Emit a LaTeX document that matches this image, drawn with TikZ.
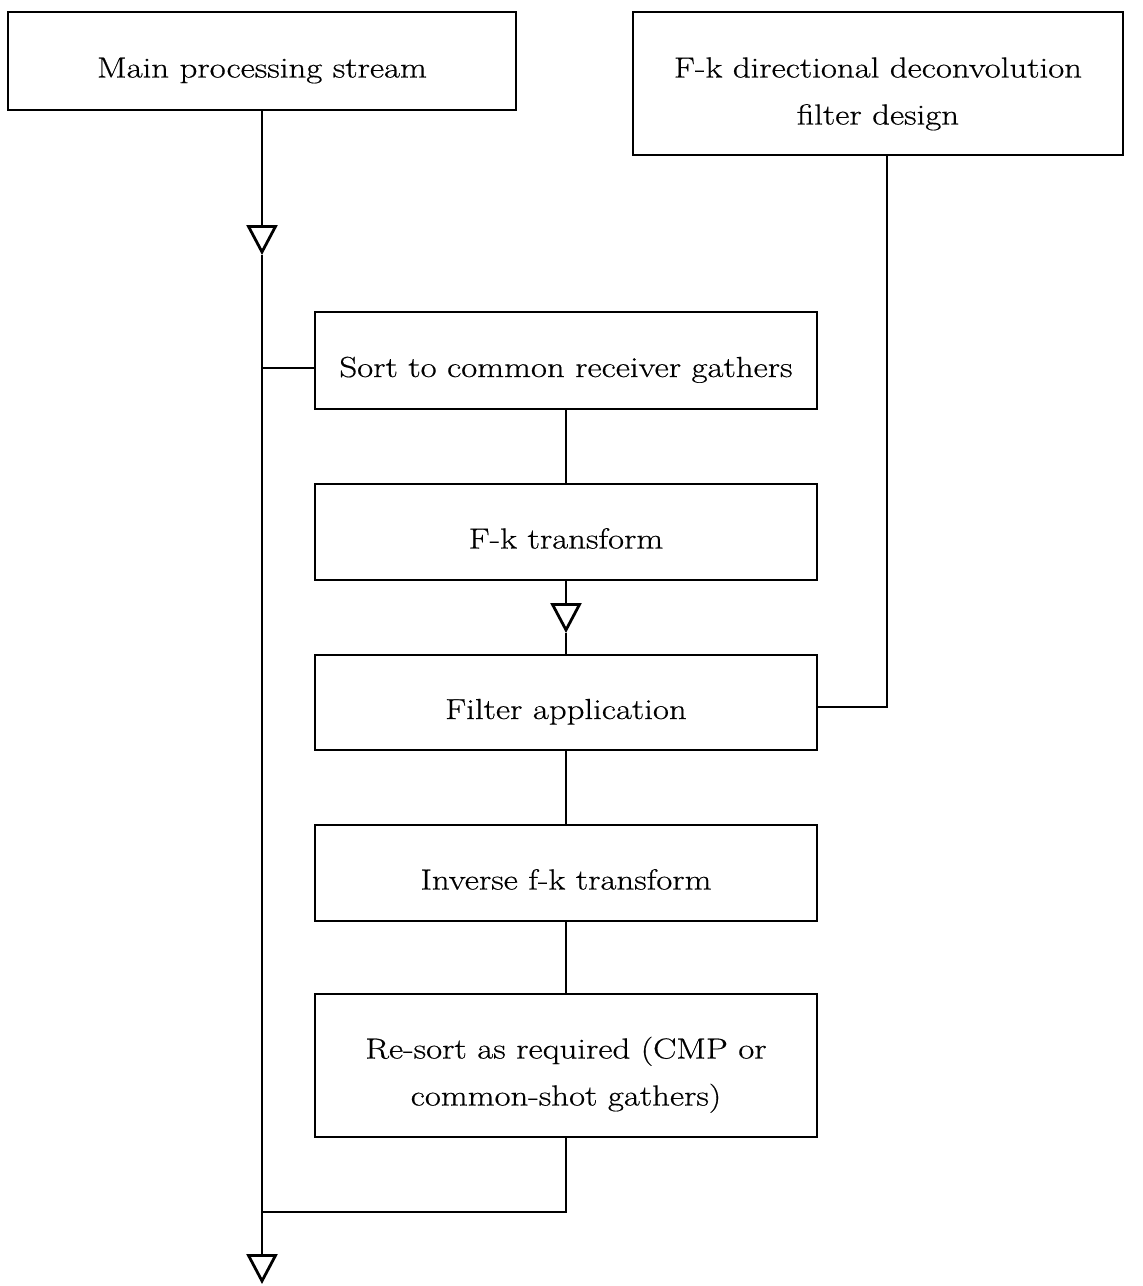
\documentclass[tikz,border=0pt]{standalone}
\usepackage{fontspec}
\setmainfont{Latin Modern Roman}[FakeStretch=1.2, FakeBold=0.5]
\usetikzlibrary{arrows.meta}
\newcommand\twoline[2]{\begin{tabular}[t]{@{}c@{}}#1\\#2\end{tabular}}
\begin{document}
\begin{tikzpicture}[x=0.5pt,y=-0.5pt,
  box/.style={draw=black, line width=1.4pt, rectangle, inner sep=0pt,
    font=\fontsize{14.5}{23.5}\selectfont},
  one/.style={box, text height=20pt, text depth=3.5pt},
  two/.style={box, text height=10pt, text depth=16pt},
  line/.style={draw=black, line width=1.4pt},
  tri/.style={line, -{Triangle[open, length=15pt, width=15.5pt, fill=white, line width=1.4pt]}}
]
\useasboundingbox (0,0) rectangle (1142,1286);
\node[one, minimum width=254pt, minimum height=49pt] (main) at (262,61) {Main processing stream};
\node[two, minimum width=245pt, minimum height=71.5pt] (design) at (878,83.5) {\twoline{F-k directional deconvolution}{filter design}};
\node[one, minimum width=251pt, minimum height=48.5pt] (sort) at (566,360.5) {Sort to common receiver gathers};
\node[one, minimum width=251pt, minimum height=48pt] (fkt) at (566,532) {F-k transform};
\node[one, minimum width=251pt, minimum height=47.5pt] (filt) at (566,702.5) {Filter application};
\node[one, minimum width=251pt, minimum height=48pt] (inv) at (566,873) {Inverse f-k transform};
\node[box, text height=10pt, text depth=17pt, minimum width=251pt, minimum height=71.5pt] (resort) at (566,1065.5) {\twoline{Re-sort as required (CMP or}{common-shot gathers)}};

\coordinate (a1) at (262,255);
\coordinate (a2) at (566,633);
\coordinate (br) at (262,368);
\coordinate (jn) at (262,1212);
\coordinate (out) at (262,1284);
\coordinate (fd) at (887,707);

% main stream
\draw[tri] (main.south) -- (a1);
\draw[line] (a1) -- (jn);
\draw[tri] (jn) -- (out);
\draw[line] (br) -- (br -| sort.west);
% processing chain
\draw[line] (sort.south) -- (fkt.north);
\draw[tri] (fkt.south) -- (a2);
\draw[line] (a2) -- (filt.north);
\draw[line] (filt.south) -- (inv.north);
\draw[line] (inv.south) -- (resort.north);
\draw[line] (resort.south) -- (resort.south |- jn) -- (jn);
% filter design feed
\draw[line] (design.south -| fd) -- (fd) -- (fd -| filt.east);
\end{tikzpicture}
\end{document}
